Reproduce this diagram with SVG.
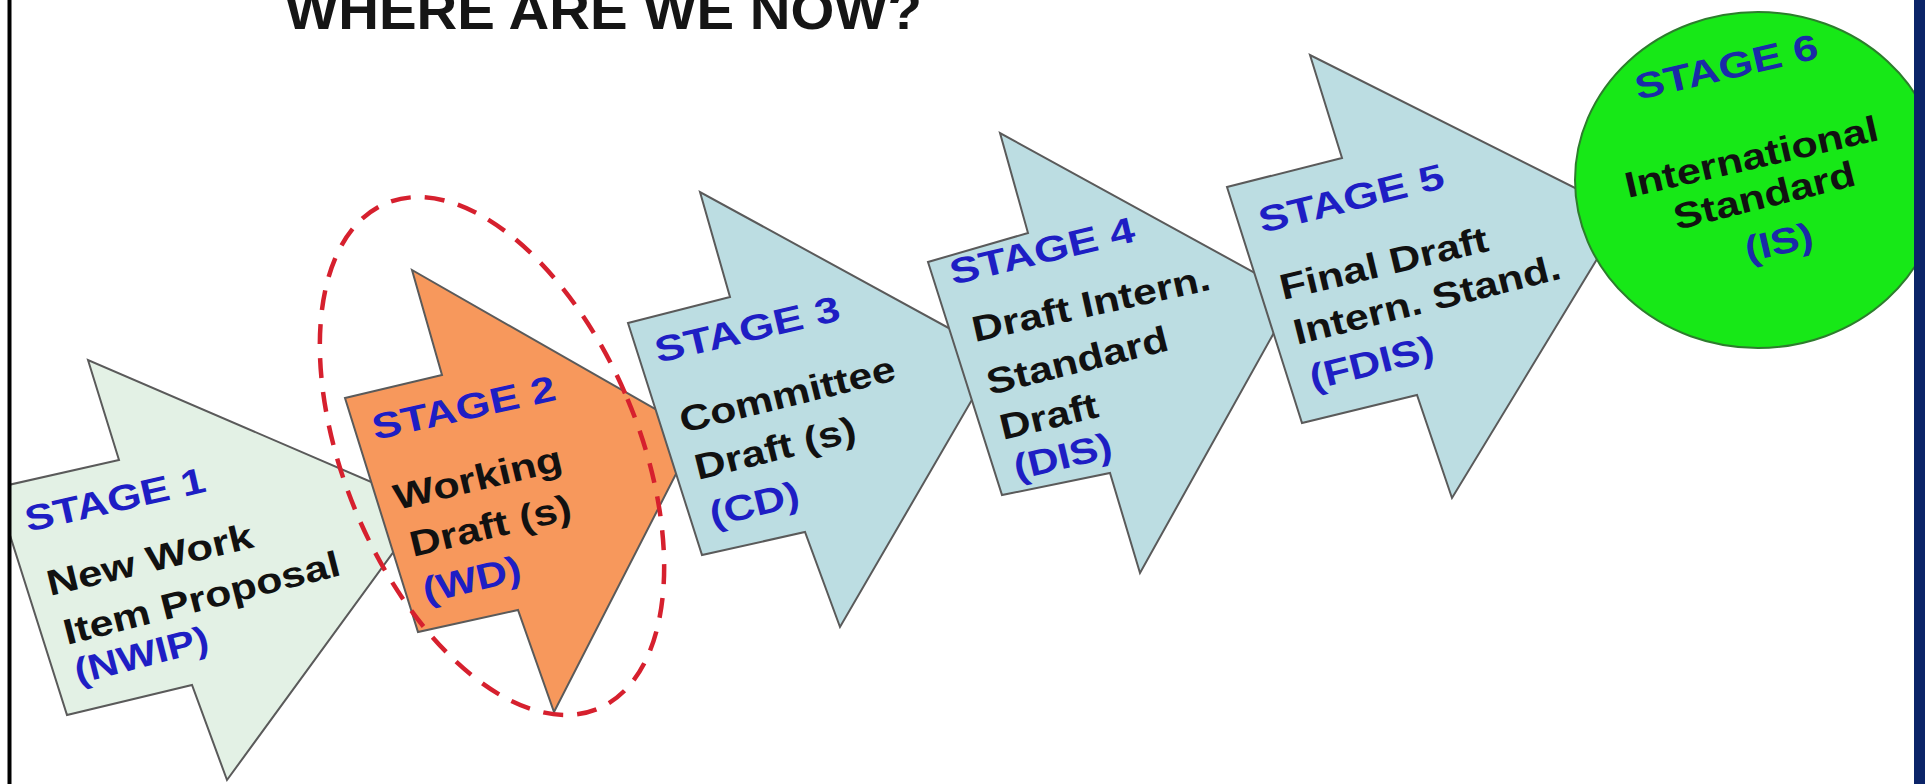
<svg xmlns="http://www.w3.org/2000/svg" width="1925" height="784" viewBox="0 0 1925 784">
<style>
.arrow{stroke:#5a5a5a;stroke-width:2;stroke-linejoin:miter}
.s1{fill:#e3f1e5}
.s2{fill:#f7985c}
.sb{fill:#bcdde2}
.t{font-family:"Liberation Sans",Arial,sans-serif;font-weight:bold;font-size:36px}
.k{fill:#111111}
.b{fill:#1e1ec4}
.b6{fill:#1a2aa8}
.title{font-family:"Liberation Sans",Arial,sans-serif;font-weight:bold;font-size:54px;fill:#151515}
</style>
<rect x="0" y="0" width="1925" height="784" fill="#ffffff"/>

<g id="title">
<text class="title" x="285" y="29" textLength="637" lengthAdjust="spacingAndGlyphs">WHERE ARE WE NOW?</text>
</g>

<g id="stage1">
<polygon class="arrow s1" points="88,360 119,460 -5,488 67,715 192,685 227,780 427,506"/>
<text class="t b" transform="translate(28,532) rotate(-12.8)" textLength="184" lengthAdjust="spacingAndGlyphs">STAGE 1</text>
<text class="t k" transform="translate(50,596) rotate(-13.4)" textLength="211" lengthAdjust="spacingAndGlyphs">New Work</text>
<text class="t k" transform="translate(67,645) rotate(-14.3)" textLength="284" lengthAdjust="spacingAndGlyphs">Item Proposal</text>
<text class="t b" transform="translate(78,684) rotate(-14.5)" textLength="137" lengthAdjust="spacingAndGlyphs">(NWIP)</text>
</g>

<g id="stage2">
<polygon class="arrow s2" points="412,270 442,375 345,398 418,632 518,610 554,712 697,433"/>
<text class="t b" transform="translate(375,440) rotate(-12.5)" textLength="187" lengthAdjust="spacingAndGlyphs">STAGE 2</text>
<text class="t k" transform="translate(397,510) rotate(-13.5)" textLength="172" lengthAdjust="spacingAndGlyphs">Working</text>
<text class="t k" transform="translate(413,557) rotate(-13.5)" textLength="165" lengthAdjust="spacingAndGlyphs">Draft (s)</text>
<text class="t b" transform="translate(426,603) rotate(-13.5)" textLength="100" lengthAdjust="spacingAndGlyphs">(WD)</text>
</g>

<g id="stage3">
<polygon class="arrow sb" points="700,192 730,297 628,323 702,555 805,532 840,627 998,355"/>
<text class="t b" transform="translate(658,363) rotate(-13.2)" textLength="189" lengthAdjust="spacingAndGlyphs">STAGE 3</text>
<text class="t k" transform="translate(683,433) rotate(-13.9)" textLength="221" lengthAdjust="spacingAndGlyphs">Committee</text>
<text class="t k" transform="translate(698,480) rotate(-13.9)" textLength="165" lengthAdjust="spacingAndGlyphs">Draft (s)</text>
<text class="t b" transform="translate(713,527) rotate(-13.9)" textLength="91" lengthAdjust="spacingAndGlyphs">(CD)</text>
</g>

<g id="stage4">
<polygon class="arrow sb" points="1000,133 1028,233 928,262 1002,495 1110,473 1140,573 1295,295"/>
<text class="t b" transform="translate(953,285) rotate(-13.5)" textLength="189" lengthAdjust="spacingAndGlyphs">STAGE 4</text>
<text class="t k" transform="translate(975,342) rotate(-12.5)" textLength="243" lengthAdjust="spacingAndGlyphs">Draft Intern.</text>
<text class="t k" transform="translate(990,395) rotate(-14)" textLength="186" lengthAdjust="spacingAndGlyphs">Standard</text>
<text class="t k" transform="translate(1003,440) rotate(-13.5)" textLength="100" lengthAdjust="spacingAndGlyphs">Draft</text>
<text class="t b" transform="translate(1017,480) rotate(-13.5)" textLength="100" lengthAdjust="spacingAndGlyphs">(DIS)</text>
</g>

<g id="stage5">
<polygon class="arrow sb" points="1310,55 1342,158 1227,187 1302,423 1417,395 1452,498 1625,213"/>
<text class="t b" transform="translate(1262,233) rotate(-13.9)" textLength="190" lengthAdjust="spacingAndGlyphs">STAGE 5</text>
<text class="t k" transform="translate(1283,300) rotate(-13.4)" textLength="213" lengthAdjust="spacingAndGlyphs">Final Draft</text>
<text class="t k" transform="translate(1297,345) rotate(-14.1)" textLength="274" lengthAdjust="spacingAndGlyphs">Intern. Stand.</text>
<text class="t b" transform="translate(1313,390) rotate(-14)" textLength="127" lengthAdjust="spacingAndGlyphs">(FDIS)</text>
</g>

<g id="stage6">
<ellipse cx="1758" cy="180" rx="183" ry="168" fill="#17e817" stroke="#2d7d2d" stroke-width="2"/>
<text class="t b6" transform="translate(1638,100) rotate(-13)" textLength="187" lengthAdjust="spacingAndGlyphs">STAGE 6</text>
<text class="t k" transform="translate(1628,198) rotate(-13)" textLength="259" lengthAdjust="spacingAndGlyphs">International</text>
<text class="t k" transform="translate(1677,230) rotate(-14)" textLength="186" lengthAdjust="spacingAndGlyphs">Standard</text>
<text class="t b6" transform="translate(1748,262) rotate(-13)" textLength="69" lengthAdjust="spacingAndGlyphs">(IS)</text>
</g>

<g id="highlight">
<ellipse cx="492" cy="456" rx="147" ry="274" transform="rotate(-22.8 492 456)" fill="none" stroke="#d6202e" stroke-width="4.5" stroke-dasharray="20 14"/>
</g>

<g id="frame">
<rect x="0" y="0" width="8" height="784" fill="#ffffff"/>
<line x1="9.5" y1="0" x2="9.5" y2="784" stroke="#000000" stroke-width="4"/>
<rect x="1914" y="0" width="11" height="784" fill="#0b2468"/>
</g>
</svg>
